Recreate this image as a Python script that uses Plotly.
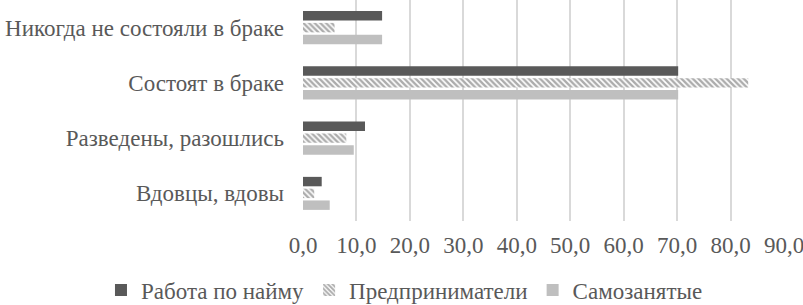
import plotly.graph_objects as go

categories = ["Никогда не состояли в браке", "Состоят в браке", "Разведены, разошлись", "Вдовцы, вдовы"]
series_names = ["Работа по найму", "Предприниматели", "Самозанятые"]
hired = [14.8, 70.2, 11.6, 3.5]
entrepreneurs = [5.9, 83.3, 8.1, 2.1]
self_employed = [14.8, 70.2, 9.5, 5.0]
x_ticks = [0, 10, 20, 30, 40, 50, 60, 70, 80, 90]

FONT = "Liberation Serif"
TXT = "#595959"

fig = go.Figure()
fig.add_trace(go.Bar(y=categories, x=hired, name=series_names[0], orientation="h",
                     marker=dict(color="#595959", line=dict(width=0))))
fig.add_trace(go.Bar(y=categories, x=entrepreneurs, name=series_names[1], orientation="h",
                     marker=dict(color="white", line=dict(width=0),
                                 pattern=dict(shape="\\", fgcolor="#595959", bgcolor="white",
                                              size=4, solidity=0.6))))
fig.add_trace(go.Bar(y=categories, x=self_employed, name=series_names[2], orientation="h",
                     marker=dict(color="#bfbfbf", line=dict(width=0))))

fig.update_layout(
    width=803, height=305,
    margin=dict(l=303, r=19, t=0, b=84, autoexpand=False),
    paper_bgcolor="white", plot_bgcolor="white",
    barmode="group", bargap=0.36, bargroupgap=0.2,
    separators=", ",
    font=dict(family=FONT, size=23, color=TXT),
    showlegend=True,
    legend=dict(orientation="h", x=-0.42, xanchor="left", y=-0.312, yanchor="middle",
                bgcolor="rgba(0,0,0,0)",
                font=dict(family=FONT, size=23, color=TXT), itemwidth=30,
                traceorder="normal"),
    xaxis=dict(range=[0, 90], tickvals=x_ticks, tickformat=".1f", automargin=False,
               showgrid=True, gridcolor="#d9d9d9", gridwidth=2,
               zeroline=False, showline=False, ticks="", ticklabelstandoff=8,
               ticklabeloverflow="allow",
               tickfont=dict(family=FONT, size=23, color=TXT)),
    yaxis=dict(autorange="reversed", showgrid=False, zeroline=False, showline=False,
               ticks="", ticklabelstandoff=18, automargin=False,
               tickfont=dict(family=FONT, size=23, color=TXT)),
)

fig.write_html("out.html", config={"displayModeBar": False},
               post_script="document.body.style.margin='0';document.body.style.overflow='hidden';")
